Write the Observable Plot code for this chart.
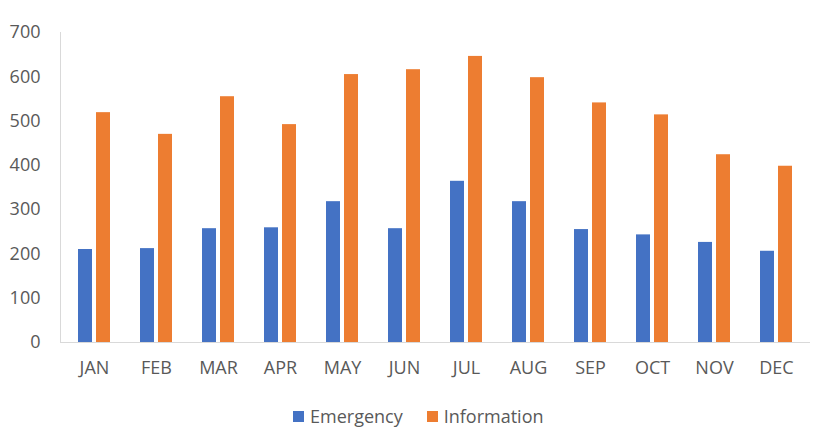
<!DOCTYPE html>
<html>
<head>
<meta charset="utf-8">
<script src="https://cdn.jsdelivr.net/npm/d3@7"></script>
<script src="https://cdn.jsdelivr.net/npm/@observablehq/plot@0.6"></script>
<style>
  html, body { margin: 0; padding: 0; background: #fff; }
  #chart { width: 831px; }
  .legend { display: flex; align-items: center; margin-left: 293px; margin-top: 12px; height: 24px;
            font-family: "Open Sans", sans-serif; font-size: 18px; color: #595959; }
  .legend .sw { width: 11px; height: 11px; display: inline-block; margin-right: 6px; }
  .legend .item { display: flex; align-items: center; margin-right: 24px; }
</style>
</head>
<body>
<div id="chart"></div>
<script>
const months = ["JAN","FEB","MAR","APR","MAY","JUN","JUL","AUG","SEP","OCT","NOV","DEC"];
const emergency = [210, 212, 257, 259, 318, 257, 364, 318, 255, 243, 226, 206];
const information = [519, 470, 555, 492, 605, 616, 646, 598, 541, 514, 424, 398];
const seriesNames = ["Emergency", "Information"];
const seriesColors = ["#4472C4", "#ED7D31"];
const yTicks = [0, 100, 200, 300, 400, 500, 600, 700];

const emData = months.map((m, i) => ({month: m, value: emergency[i]}));
const inData = months.map((m, i) => ({month: m, value: information[i]}));

const plot = Plot.plot({
  width: 831,
  height: 392,
  marginLeft: 60,
  marginRight: 21,
  marginTop: 32,
  marginBottom: 50,
  style: {fontFamily: "'Open Sans', sans-serif", color: "#595959", background: "#fff"},
  x: {domain: months, paddingInner: 0.776, paddingOuter: 0.388},
  y: {domain: [0, 700]},
  marks: [
    Plot.barY(emData, {x: "month", y: "value", fill: seriesColors[0], dx: -9}),
    Plot.barY(inData, {x: "month", y: "value", fill: seriesColors[1], dx: 9}),
    Plot.frame({anchor: "left", stroke: "#d9d9d9"}),
    Plot.ruleY([0], {stroke: "#d9d9d9"}),
    Plot.axisY({ticks: yTicks, tickSize: 0, tickPadding: 20, fontSize: 18, label: null, fill: "#595959"}),
    Plot.axisX({tickSize: 0, tickPadding: 19, fontSize: 18, label: null, fill: "#595959"})
  ]
});
document.getElementById("chart").appendChild(plot);

const legend = document.createElement("div");
legend.className = "legend";
seriesNames.forEach((name, i) => {
  const item = document.createElement("span");
  item.className = "item";
  const sw = document.createElement("span");
  sw.className = "sw";
  sw.style.background = seriesColors[i];
  item.appendChild(sw);
  item.appendChild(document.createTextNode(name));
  legend.appendChild(item);
});
document.getElementById("chart").appendChild(legend);
</script>
</body>
</html>
